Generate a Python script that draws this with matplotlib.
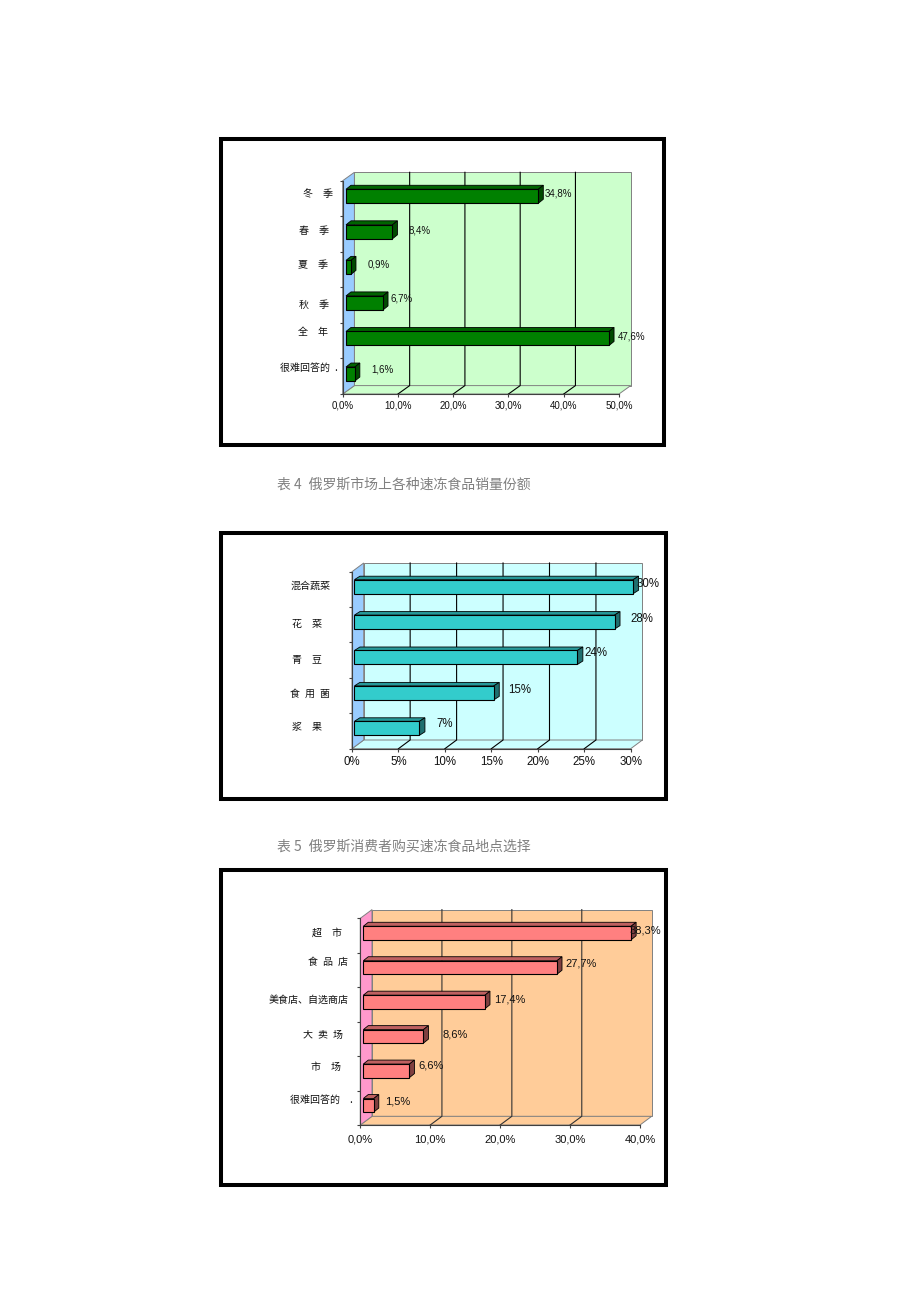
import matplotlib
matplotlib.use("Agg")
import matplotlib.pyplot as plt
from matplotlib.patches import Polygon, Rectangle

CJK = ['Noto Sans CJK SC', 'DejaVu Sans']
LATIN = 'Liberation Sans'
W, H = 920, 1302

# ---- data ----
cats1 = ['冬\u3000季', '春\u3000季', '夏\u3000季', '秋\u3000季', '全\u3000年', '很难回答的\u2002.']
vals1 = [34.8, 8.4, 0.9, 6.7, 47.6, 1.6]
labels1 = ['34,8%', '8,4%', '0,9%', '6,7%', '47,6%', '1,6%']
ticks1 = [0, 10, 20, 30, 40, 50]
ticklabels1 = ['0,0%', '10,0%', '20,0%', '30,0%', '40,0%', '50,0%']

cats2 = ['混合蔬菜', '花\u3000菜', '青\u3000豆', '食\u2002用\u2002菌', '浆\u3000果']
vals2 = [30, 28, 24, 15, 7]
labels2 = ['30%', '28%', '24%', '15%', '7%']
ticks2 = [0, 5, 10, 15, 20, 25, 30]
ticklabels2 = ['0%', '5%', '10%', '15%', '20%', '25%', '30%']

cats3 = ['超\u3000市', '食\u2002品\u2002店', '美食店、自选商店', '大\u2002卖\u2002场', '市\u3000场', '很难回答的\u3000.']
vals3 = [38.3, 27.7, 17.4, 8.6, 6.6, 1.5]
labels3 = ['38,3%', '27,7%', '17,4%', '8,6%', '6,6%', '1,5%']
ticks3 = [0, 10, 20, 30, 40]
ticklabels3 = ['0,0%', '10,0%', '20,0%', '30,0%', '40,0%']

caption4 = '表 4\u2002俄罗斯市场上各种速冻食品销量份额'
caption5 = '表 5\u2002俄罗斯消费者购买速冻食品地点选择'

# ---- layout and style, in pixels ----
charts = [
    dict(frame=(221, 139, 664, 445), rect=(342.7, 180.7, 619, 394), depth=(11.7, 8.4),
         cats=cats1, vals=vals1, labels=labels1, ticks=ticks1, ticklabels=ticklabels1,
         wall='#CCFFCC', side='#99CCFF', bar='#008000', top='#006400', end='#004B00',
         grid='#000000', fs=7.0, tickpad=8, shift=-2.2, barh=14, off=3.3, bdepth=(5, 4),
         label_dx=[6.7, 16.3, 16.4, 7.7, 8.7, 16],
         label_dy=[-2.8, -1, -2.7, -4.3, -1.7, -4.7],
         cat_dx=[-9.3, -13.3, -14.3, -13.7, -14.3, -5.3],
         cat_dy=[-4, -2.8, -4.5, 0, -8.8, -8.7]),
    dict(frame=(221, 533, 666, 799), rect=(352, 571.7, 630.7, 748.7), depth=(11.7, 8.7),
         cats=cats2, vals=vals2, labels=labels2, ticks=ticks2, ticklabels=ticklabels2,
         wall='#CCFFFF', side='#99CCFF', bar='#33CCCC', top='#269999', end='#1F6F6F',
         grid='#000000', fs=8.3, tickpad=8.5, shift=-2.7, barh=14, off=2.4, bdepth=(5.5, 3.5),
         label_dx=[3, 16, 7.3, 14.3, 17.3],
         label_dy=[-2.7, -3.3, -4.3, -3, -4.3],
         cat_dx=[-21.3, -30.3, -29.7, -22, -29.7],
         cat_dy=[-3.5, -1.2, 0, -2.2, -4.2]),
    dict(frame=(221, 870, 666, 1185), rect=(360.3, 918.3, 640, 1125), depth=(11.7, 8.7),
         cats=cats3, vals=vals3, labels=labels3, ticks=ticks3, ticklabels=ticklabels3,
         wall='#FFCC99', side='#FF99CC', bar='#FF8080', top='#BF6060', end='#803F3F',
         grid='#333333', fs=8.0, tickpad=9.5, shift=-2.5, barh=13.5, off=3, bdepth=(5, 4),
         label_dx=[-2, 8.7, 8.7, 19.3, 9, 11.3],
         label_dy=[-2.7, -3.7, -2, -1.7, -5, -3.3],
         cat_dx=[-18.7, -12.7, -12, -17.7, -19.3, -7],
         cat_dy=[-2.8, -8.2, -4.3, -4.3, -6, -8]),
]

fig = plt.figure(figsize=(W / 100, H / 100), dpi=100, facecolor='white')
bg = fig.add_axes([0, 0, 1, 1])
bg.set_xlim(0, W)
bg.set_ylim(H, 0)
bg.axis('off')

for c in charts:
    l, t, r, b = c['frame']
    bg.add_patch(Rectangle((l, t), r - l, b - t, fc='white', ec='black', lw=2.9))

bg.text(277.5, 485, caption4, family=CJK, fontsize=10, color='#808080', va='center', ha='left')
bg.text(277.5, 846.5, caption5, family=CJK, fontsize=10, color='#808080', va='center', ha='left')


def draw(c):
    x0, y0, x1, y1 = c['rect']
    ax = fig.add_axes([x0 / W, 1 - y1 / H, (x1 - x0) / W, (y1 - y0) / H])
    ax.patch.set_alpha(0)
    vals, n = c['vals'], len(c['vals'])
    xmax = c['ticks'][-1]
    ax.set_xlim(0, xmax)
    ax.set_ylim(n, 0)
    ux, uy = xmax / (x1 - x0), n / (y1 - y0)   # data units per pixel
    dx, dy = c['depth'][0] * ux, c['depth'][1] * uy
    edge = '#808080'

    def poly(pts, fc, ec=edge, lw=0.7, z=1):
        ax.add_patch(Polygon(pts, closed=True, fc=fc, ec=ec, lw=lw, zorder=z, clip_on=False))

    # walls and floor
    poly([(dx, -dy), (xmax + dx, -dy), (xmax + dx, n - dy), (dx, n - dy)], c['wall'])
    poly([(0, n), (xmax, n), (xmax + dx, n - dy), (dx, n - dy)], c['wall'])
    poly([(0, 0), (dx, -dy), (dx, n - dy), (0, n)], c['side'])

    # gridlines on back wall and floor
    for v in c['ticks'][1:-1]:
        ax.plot([v, v + dx, v + dx], [n, n - dy, -dy], color=c['grid'], lw=0.8,
                zorder=2, clip_on=False, solid_joinstyle='miter')

    # 3D bars
    off = c['off'] * ux
    bdx, bdy = c['bdepth'][0] * ux, c['bdepth'][1] * uy
    h = c['barh'] * uy
    ys = [i + 0.5 + c['shift'] * uy for i in range(n)]
    ax.barh(ys, vals, left=off, height=h, color=c['bar'], edgecolor='black', linewidth=0.8,
            zorder=4, clip_on=False)
    for v, y in zip(vals, ys):
        xe = off + v
        poly([(off, y - h / 2), (xe, y - h / 2), (xe + bdx, y - h / 2 - bdy), (off + bdx, y - h / 2 - bdy)],
             c['top'], ec='#000000', lw=0.6, z=3.5)
        poly([(xe, y - h / 2), (xe + bdx, y - h / 2 - bdy), (xe + bdx, y + h / 2 - bdy), (xe, y + h / 2)],
             c['end'], ec='#000000', lw=0.6, z=3.5)

    # data labels
    for v, y, s, ddx, ddy in zip(vals, ys, c['labels'], c['label_dx'], c['label_dy']):
        ax.annotate(s, (off + v, y), xytext=(ddx, -ddy), textcoords='offset pixels',
                    family=LATIN, fontsize=c['fs'], color='#111111', ha='left', va='center',
                    zorder=6, annotation_clip=False)

    # category labels
    for i, (s, ddx, ddy) in enumerate(zip(c['cats'], c['cat_dx'], c['cat_dy'])):
        ax.annotate(s, (0, i + 0.5), xytext=(ddx, -ddy), textcoords='offset pixels',
                    family=CJK, fontsize=7.2, color='#111111', ha='right', va='center',
                    annotation_clip=False)

    # axes
    for sp in ('top', 'right'):
        ax.spines[sp].set_visible(False)
    for sp in ('left', 'bottom'):
        ax.spines[sp].set_color('#404040')
        ax.spines[sp].set_linewidth(0.8)
        ax.spines[sp].set_zorder(5)
    ax.set_xticks(c['ticks'])
    ax.set_xticklabels(c['ticklabels'], family=LATIN, fontsize=c['fs'], color='#111111')
    ax.set_yticks(range(n + 1))
    ax.set_yticklabels([])
    ax.tick_params(axis='x', length=2, width=0.8, color='#404040', pad=c['tickpad'] - 5)
    ax.tick_params(axis='y', length=2, width=0.8, color='#404040')


for c in charts:
    draw(c)

fig.savefig('out.png', dpi=100, facecolor='white')
